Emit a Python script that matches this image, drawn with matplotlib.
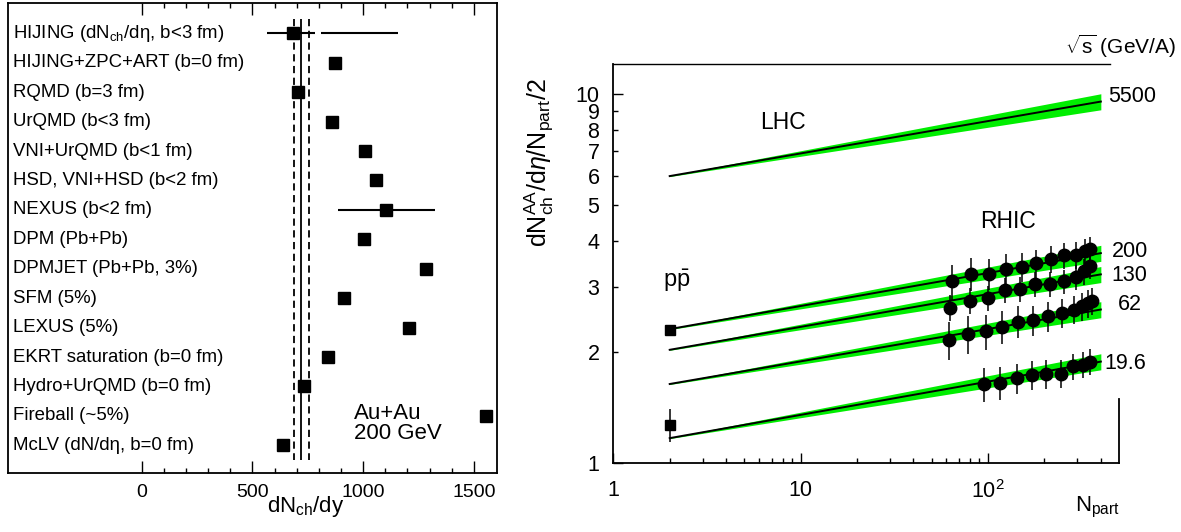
import numpy as np
import matplotlib.pyplot as plt
from matplotlib.ticker import FixedLocator, FixedFormatter, NullFormatter
import matplotlib.transforms as mtransforms

plt.rcParams['font.family'] = ['Liberation Sans', 'DejaVu Sans']
plt.rcParams['mathtext.fontset'] = 'custom'
plt.rcParams['mathtext.rm'] = 'Liberation Sans'
plt.rcParams['mathtext.it'] = 'Liberation Sans:italic'
plt.rcParams['mathtext.bf'] = 'Liberation Sans:bold'

# ---- left panel data: model predictions of dNch/dy, Au+Au 200 GeV ----
models = ["HIJING (dN$_{\\rm ch}$/dη, b<3 fm)", "HIJING+ZPC+ART (b=0 fm)", "RQMD (b=3 fm)",
          "UrQMD (b<3 fm)", "VNI+UrQMD (b<1 fm)", "HSD, VNI+HSD (b<2 fm)", "NEXUS (b<2 fm)",
          "DPM (Pb+Pb)", "DPMJET (Pb+Pb, 3%)", "SFM (5%)", "LEXUS (5%)",
          "EKRT saturation (b=0 fm)", "Hydro+UrQMD (b=0 fm)", "Fireball (~5%)",
          "McLV (dN/dη, b=0 fm)"]
model_vals = [682, 873, 707, 858, 1008, 1056, 1103, 1005, 1284, 913, 1208, 840, 734, 1554, 636]
# horizontal ranges (row, low, high)
range_rows = [0, 0, 6]
range_lo = [564, 809, 888]
range_hi = [782, 1159, 1324]
meas_val = 720
meas_lo = 686
meas_hi = 757

# ---- right panel data: dNch/deta/(Npart/2) vs Npart ----
fit_npart = [2, 400]
fit_lhc = [6.0, 9.55]
fit_200 = [2.31, 3.71]
fit_130 = [2.03, 3.25]
fit_62 = [1.64, 2.61]
fit_19 = [1.17, 1.886]
band_frac = [0.003, 0.05]

n_200 = [64.6, 81.5, 101, 124, 151, 180, 216, 254, 296, 329, 351]
y_200 = [3.11, 3.26, 3.26, 3.36, 3.41, 3.48, 3.57, 3.66, 3.67, 3.75, 3.80]
e_200 = [0.34, 0.33, 0.32, 0.32, 0.31, 0.31, 0.30, 0.30, 0.30, 0.30, 0.30]
n_130 = [63, 80, 100, 123, 149, 179, 215, 253, 294, 325, 351]
y_130 = [2.64, 2.76, 2.80, 2.94, 2.96, 3.06, 3.06, 3.11, 3.19, 3.31, 3.42]
e_130 = [0.21, 0.22, 0.22, 0.23, 0.23, 0.24, 0.24, 0.24, 0.25, 0.26, 0.27]
n_62 = [62, 78, 98, 119, 145, 174, 209, 248, 287, 319, 341, 359]
y_62 = [2.16, 2.24, 2.28, 2.34, 2.42, 2.44, 2.50, 2.55, 2.61, 2.66, 2.71, 2.75]
e_62 = [0.26, 0.26, 0.25, 0.24, 0.24, 0.23, 0.23, 0.23, 0.23, 0.23, 0.23, 0.23]
n_19 = [95, 116, 142, 172, 205, 246, 284, 321, 351]
y_19 = [1.64, 1.65, 1.70, 1.735, 1.75, 1.75, 1.83, 1.85, 1.885]
e_19 = [0.17, 0.17, 0.16, 0.16, 0.16, 0.15, 0.15, 0.15, 0.15]
pp_n = [2, 2]
pp_y = [2.30, 1.27]
pp_e = [0.04, 0.13]

energy_labels = ["5500", "200", "130", "62", "19.6"]
energy_lab_x = [440, 456, 456, 492, 419]
energy_lab_y = [9.85, 3.745, 3.22, 2.70, 1.866]

green = '#00ee00'

fig = plt.figure(figsize=(11.81, 5.32), dpi=100)

# ================= left panel =================
axL = fig.add_axes([8 / 1181, 58.7 / 532, 488.7 / 1181, 470 / 532])
rows = np.arange(len(models))
axL.set_xlim(-604, 1603)
axL.set_ylim(14.95, -1.02)

axL.vlines(meas_val, -0.5, 14.5, color='black', lw=1.3)
axL.vlines([meas_lo, meas_hi], -0.5, 14.5, color='black', lw=1.3, linestyles=[(0, (4, 2.5))])
axL.hlines(range_rows, range_lo, range_hi, color='black', lw=1.5)
axL.plot(model_vals, rows, 's', color='black', ms=8.4, zorder=3)

tr = mtransforms.blended_transform_factory(axL.transAxes, axL.transData)
for r, lab in zip(rows, models):
    axL.text(0.0096, r, lab, transform=tr, ha='left', va='center', fontsize=13.4)

axL.text(960, 13.25, "Au+Au\n200 GeV", fontsize=16, ha='left', va='center', linespacing=0.95)

axL.set_yticks([])
axL.xaxis.set_major_locator(FixedLocator([0, 500, 1000, 1500]))
axL.xaxis.set_minor_locator(FixedLocator(np.arange(0, 1600, 100)))
axL.tick_params(axis='x', which='both', direction='in', top=True, labelsize=14, pad=8)
axL.tick_params(axis='x', which='major', length=8.6, width=1)
axL.tick_params(axis='x', which='minor', length=3.6, width=1)
for s in axL.spines.values():
    s.set_linewidth(1.3)
axL.text(0.609, -0.0717, "dN$_{\\rm ch}$/dy", transform=axL.transAxes,
         ha='center', va='center', fontsize=16)

# ================= right panel =================
axR = fig.add_axes([613.3 / 1181, 68.7 / 532, 505.7 / 1181, 399 / 532])
axR.set_xscale('log')
axR.set_yscale('log')
axR.set_xlim(1, 500)
axR.set_ylim(1, 12.05)

for fit in [fit_lhc, fit_200, fit_130, fit_62, fit_19]:
    f = np.array(fit)
    b = np.array(band_frac)
    axR.fill_between(fit_npart, f * (1 - b), f * (1 + b), color=green, lw=0, zorder=1)
    axR.plot(fit_npart, f, color='black', lw=1.4, zorder=2)

for n, y, e in [(n_200, y_200, e_200), (n_130, y_130, e_130), (n_62, y_62, e_62), (n_19, y_19, e_19)]:
    axR.errorbar(n, y, yerr=e, fmt='o', color='black', ms=9, elinewidth=1.1,
                 capsize=0, zorder=4)
axR.errorbar(pp_n, pp_y, yerr=pp_e, fmt='s', color='black', ms=7, elinewidth=1.1,
             capsize=0, zorder=4)

for lab, x, y in zip(energy_labels, energy_lab_x, energy_lab_y):
    axR.text(x, y, lab, ha='left', va='center', fontsize=15.5, clip_on=False)
axR.text(8.03, 8.40, "LHC", ha='center', va='center', fontsize=16.5)
axR.text(127.4, 4.52, "RHIC", ha='center', va='center', fontsize=16.5)
axR.text(2.19, 3.12, "p$\\bar{\\rm p}$", ha='center', va='center', fontsize=17)
axR.text(0.893, 1.044, "$\\sqrt{\\rm s}$ (GeV/A)", transform=axR.transAxes,
         ha='left', va='center', fontsize=15)
axR.text(0.958, -0.1095, "N$_{\\rm part}$", transform=axR.transAxes,
         ha='center', va='center', fontsize=16)
axR.text(-0.147, 0.753, "dN$^{\\rm AA}_{\\rm ch}$/d$\\eta$/N$_{\\rm part}$/2", transform=axR.transAxes,
         rotation=90, ha='center', va='center', fontsize=18)

axR.xaxis.set_major_locator(FixedLocator([1, 10, 100]))
axR.xaxis.set_major_formatter(FixedFormatter(["1", "10", "10$^2$"]))
axR.xaxis.set_minor_locator(FixedLocator([2, 3, 4, 5, 6, 7, 8, 9, 20, 30, 40, 50, 60, 70, 80, 90,
                                          200, 300, 400]))
axR.xaxis.set_minor_formatter(NullFormatter())
axR.yaxis.set_major_locator(FixedLocator([1, 10]))
axR.yaxis.set_major_formatter(FixedFormatter(["1", "10"]))
axR.yaxis.set_minor_locator(FixedLocator([2, 3, 4, 5, 6, 7, 8, 9]))
axR.yaxis.set_minor_formatter(FixedFormatter(["2", "3", "4", "5", "6", "7", "8", "9"]))
axR.tick_params(axis='x', which='both', direction='in', labelsize=15.5, pad=12)
axR.tick_params(axis='y', which='both', direction='in', labelsize=15.5, pad=10)
axR.tick_params(which='major', length=7.2, width=1)
axR.tick_params(which='minor', length=3.6, width=1)

for s in axR.spines.values():
    s.set_linewidth(1.3)
axR.spines['top'].set_bounds(1, 446)
axR.spines['top'].set_linewidth(1.0)
axR.spines['right'].set_bounds(1, 1.49)

fig.savefig('out.png', dpi=100)
